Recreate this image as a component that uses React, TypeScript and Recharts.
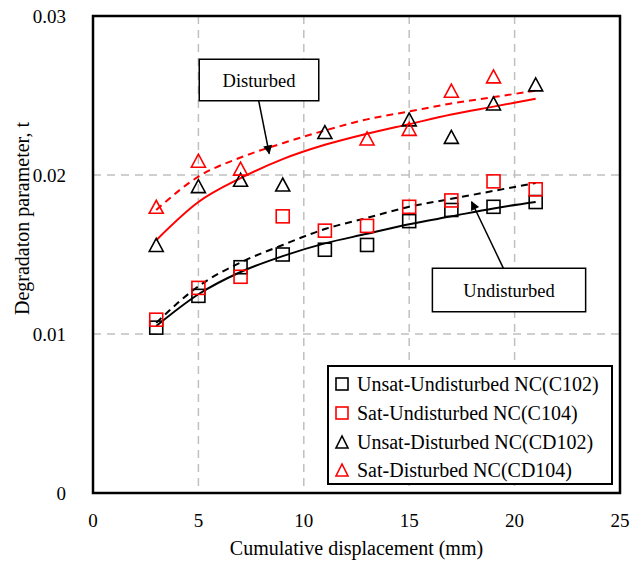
import React from 'react';
import {
  ComposedChart, Scatter, Line, XAxis, YAxis, CartesianGrid,
  ReferenceArea, ReferenceLine,
} from 'recharts';

// ---- data ----
const dispX = [3, 5, 7, 9, 11, 13, 15, 17, 19, 21];
const unsatUndist = [0.0104, 0.0124, 0.0142, 0.0150, 0.0153, 0.0156, 0.0171, 0.0178, 0.0180, 0.0183];
const satUndist = [0.0109, 0.0129, 0.0136, 0.0174, 0.0165, 0.0168, 0.0180, 0.0184, 0.0196, 0.0191];
const unsatDistX = [3, 5, 7, 9, 11, 15, 17, 19, 21];
const unsatDist = [0.0156, 0.0193, 0.0197, 0.0194, 0.0227, 0.0235, 0.0224, 0.0245, 0.0257];
const satDistX = [3, 5, 7, 13, 15, 17, 19];
const satDist = [0.0180, 0.0209, 0.0204, 0.0223, 0.0229, 0.0253, 0.0262];

// trend lines
const fitX = [3, 5, 7, 9, 11, 13, 15, 17, 19, 21];
const fitUnsatUndist = [0.0105, 0.0125, 0.0139, 0.0149, 0.0157, 0.0163, 0.0169, 0.0174, 0.0179, 0.0183];
const fitSatUndist = [0.0107, 0.0130, 0.0145, 0.0156, 0.0166, 0.0173, 0.0180, 0.0185, 0.0190, 0.0195];
const fitUnsatDist = [0.0159, 0.0183, 0.0198, 0.0210, 0.0219, 0.0226, 0.0232, 0.0238, 0.0243, 0.0248];
const fitSatDist = [0.0178, 0.0199, 0.0211, 0.0220, 0.0228, 0.0235, 0.0240, 0.0245, 0.0249, 0.0253];

const xTicks = [0, 5, 10, 15, 20, 25];
const yTicks = [0, 0.01, 0.02, 0.03];

const seriesNames = [
  'Unsat-Undisturbed NC(C102)',
  'Sat-Undisturbed NC(C104)',
  'Unsat-Disturbed NC(CD102)',
  'Sat-Disturbed NC(CD104)',
];
const seriesColors = ['#000000', '#ff0000', '#000000', '#ff0000'];
const seriesShapes = ['square', 'square', 'triangle', 'triangle'];

// annotation boxes / arrows (data coordinates)
const disturbedBox = { x1: 5.04, x2: 10.71, y1: 0.02467, y2: 0.02728, text: 'Disturbed' };
const disturbedArrow = [{ x: 7.86, y: 0.02467 }, { x: 8.36, y: 0.02135 }];
const undisturbedBox = { x1: 16.1, x2: 23.37, y1: 0.0114, y2: 0.01413, text: 'Undisturbed' };
const undisturbedArrow = [{ x: 19.47, y: 0.01413 }, { x: 17.96, y: 0.01832 }];

const FONT = '"Liberation Serif", "Times New Roman", serif';

const zip = (xs: number[], ys: number[]) => xs.map((x, i) => ({ x, y: ys[i] }));

const Square = (color: string) => (props: any) => {
  const { cx, cy } = props;
  if (cx == null || cy == null) return null;
  const s = 13;
  return <rect x={cx - s / 2} y={cy - s / 2} width={s} height={s} fill="none" stroke={color} strokeWidth={1.6} />;
};
const Triangle = (color: string) => (props: any) => {
  const { cx, cy } = props;
  if (cx == null || cy == null) return null;
  const w = 14, h = 13;
  return (
    <polygon
      points={`${cx},${cy - h / 2} ${cx - w / 2},${cy + h / 2} ${cx + w / 2},${cy + h / 2}`}
      fill="none" stroke={color} strokeWidth={1.6} strokeLinejoin="miter"
    />
  );
};

const LegendBox = () => (
  <div
    style={{
      position: 'absolute', left: 327, top: 365, width: 282, height: 116,
      border: '2px solid #000', background: '#fff', fontFamily: FONT, fontSize: 20,
      boxSizing: 'content-box', padding: '0', color: '#000',
    }}
  >
    {seriesNames.map((n, i) => (
      <div key={n} style={{ display: 'flex', alignItems: 'center', height: 28.7, marginTop: i === 0 ? 3 : 0 }}>
        <svg width={28} height={20} style={{ flex: 'none' }}>
          {seriesShapes[i] === 'square' ? (
            <rect x={7} y={4} width={12} height={12} fill="none" stroke={seriesColors[i]} strokeWidth={1.6} />
          ) : (
            <polygon points="13,4 7,16 19,16" fill="none" stroke={seriesColors[i]} strokeWidth={1.6} />
          )}
        </svg>
        <span style={{ whiteSpace: 'nowrap', lineHeight: '20px' }}>{n}</span>
      </div>
    ))}
  </div>
);

export default function App() {
  return (
    <div style={{ position: 'absolute', left: 0, top: 0, width: 641, height: 563, background: '#fff' }}>
      <svg width={0} height={0} style={{ position: 'absolute' }}>
        <defs>
          <marker id="arrowHead" viewBox="0 0 10 10" refX="9" refY="5" markerWidth="13" markerHeight="9"
            markerUnits="userSpaceOnUse" orient="auto">
            <path d="M0,0 L10,5 L0,10 z" fill="#000" />
          </marker>
        </defs>
      </svg>
      <ComposedChart
        width={641}
        height={563}
        margin={{ top: 16, right: 21, bottom: 0, left: 0 }}
        style={{ fontFamily: FONT }}
      >
        <CartesianGrid stroke="#c0c0c0" strokeWidth={1.5} strokeDasharray="8 6" />
        <XAxis
          type="number" dataKey="x" domain={[0, 25]} ticks={xTicks} height={70}
          axisLine={false} tickLine={false} tickSize={0} tickMargin={21}
          tick={{ fill: '#000', fontSize: 19, fontFamily: FONT }}
          allowDataOverflow
          label={{
            content: (p: any) => {
              const vb = p.viewBox;
              return (
                <text x={vb.x + vb.width / 2} y={vb.y + 62} textAnchor="middle" fontSize={20} fontFamily={FONT} fill="#000">
                  Cumulative displacement (mm)
                </text>
              );
            },
          }}
        />
        <YAxis
          type="number" domain={[0, 0.03]} ticks={yTicks} width={93}
          axisLine={false} tickLine={false} tickSize={0} tickMargin={27}
          tick={{ fill: '#000', fontSize: 19, fontFamily: FONT }}
          tickFormatter={(v: number) => (v === 0 ? '0' : v.toFixed(2))}
          allowDataOverflow
          label={{
            content: (p: any) => {
              const vb = p.viewBox;
              const cx = vb.x + 22;
              const cy = vb.y + vb.height / 2 - 36;
              return (
                <text x={cx} y={cy} transform={`rotate(-90 ${cx} ${cy})`} textAnchor="middle"
                  dominantBaseline="central" fontSize={20} fontFamily={FONT} fill="#000">
                  Degradaton parameter, t
                </text>
              );
            },
          }}
        />

        <Line data={zip(fitX, fitUnsatUndist)} dataKey="y" type="monotone" stroke="#000" strokeWidth={2} dot={false} activeDot={false} isAnimationActive={false} />
        <Line data={zip(fitX, fitSatUndist)} dataKey="y" type="monotone" stroke="#000" strokeWidth={2} strokeDasharray="7 5" dot={false} activeDot={false} isAnimationActive={false} />
        <Line data={zip(fitX, fitUnsatDist)} dataKey="y" type="monotone" stroke="#ff0000" strokeWidth={2} dot={false} activeDot={false} isAnimationActive={false} />
        <Line data={zip(fitX, fitSatDist)} dataKey="y" type="monotone" stroke="#ff0000" strokeWidth={2} strokeDasharray="7 5" dot={false} activeDot={false} isAnimationActive={false} />

        <Scatter name={seriesNames[0]} data={zip(dispX, unsatUndist)} dataKey="y" shape={Square(seriesColors[0])} isAnimationActive={false} />
        <Scatter name={seriesNames[1]} data={zip(dispX, satUndist)} dataKey="y" shape={Square(seriesColors[1])} isAnimationActive={false} />
        <Scatter name={seriesNames[2]} data={zip(unsatDistX, unsatDist)} dataKey="y" shape={Triangle(seriesColors[2])} isAnimationActive={false} />
        <Scatter name={seriesNames[3]} data={zip(satDistX, satDist)} dataKey="y" shape={Triangle(seriesColors[3])} isAnimationActive={false} />

        <ReferenceArea
          x1={disturbedBox.x1} x2={disturbedBox.x2} y1={disturbedBox.y1} y2={disturbedBox.y2}
          fill="#fff" fillOpacity={1} stroke="#000" strokeWidth={1.5}
          label={{ value: disturbedBox.text, position: 'center', fill: '#000', fontSize: 18.5, fontFamily: FONT }}
        />
        <ReferenceLine segment={disturbedArrow} stroke="#000" strokeWidth={1.5} markerEnd="url(#arrowHead)" />
        <ReferenceArea
          x1={undisturbedBox.x1} x2={undisturbedBox.x2} y1={undisturbedBox.y1} y2={undisturbedBox.y2}
          fill="#fff" fillOpacity={1} stroke="#000" strokeWidth={1.5}
          label={{ value: undisturbedBox.text, position: 'center', fill: '#000', fontSize: 18.5, fontFamily: FONT }}
        />
        <ReferenceLine segment={undisturbedArrow} stroke="#000" strokeWidth={1.5} markerEnd="url(#arrowHead)" />

        <ReferenceArea x1={0} x2={25} y1={0} y2={0.03} fill="none" fillOpacity={0} stroke="#000" strokeWidth={2.5} />
      </ComposedChart>
      <LegendBox />
    </div>
  );
}
